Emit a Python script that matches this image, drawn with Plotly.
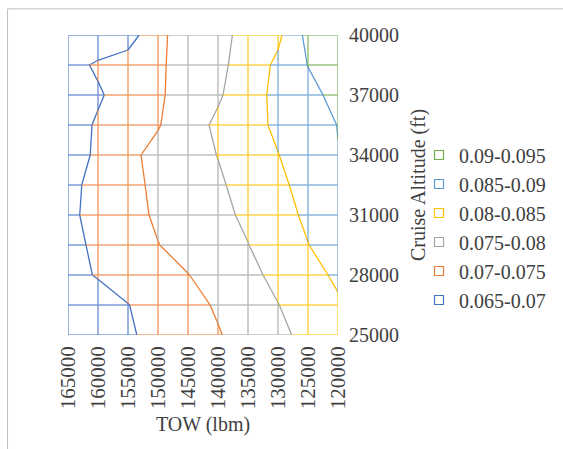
import plotly.graph_objects as go

# Take-off weight grid (lbm) and cruise altitude grid (ft)
tow = [165000, 160000, 155000, 150000, 145000, 140000, 135000, 130000, 125000, 120000]
altitude = [25000, 26500, 28000, 29500, 31000, 32500, 34000, 35500, 37000, 38500, 40000]
altitude_labels = [25000, 28000, 31000, 34000, 37000, 40000]

# Surface value at each (altitude, TOW) node; columns follow the order of `tow`
z_25000 = [0.0661, 0.0678, 0.0695, 0.0712, 0.0729, 0.0747, 0.0768, 0.0790, 0.0812, 0.0834]
z_26500 = [0.0664, 0.0682, 0.0699, 0.0718, 0.0736, 0.0755, 0.0777, 0.0799, 0.0822, 0.0844]
z_28000 = [0.0687, 0.0703, 0.0718, 0.0733, 0.0749, 0.0769, 0.0789, 0.0811, 0.0834, 0.0858]
z_29500 = [0.0688, 0.0708, 0.0729, 0.0749, 0.0766, 0.0783, 0.0799, 0.0825, 0.0849, 0.0875]
z_31000 = [0.0691, 0.0714, 0.0736, 0.0756, 0.0773, 0.0789, 0.0808, 0.0833, 0.0858, 0.0883]
z_32500 = [0.0689, 0.0713, 0.0738, 0.0759, 0.0777, 0.0794, 0.0816, 0.0841, 0.0865, 0.0890]
z_34000 = [0.0680, 0.0707, 0.0740, 0.0763, 0.0782, 0.0801, 0.0825, 0.0849, 0.0874, 0.0899]
z_35500 = [0.0680, 0.0705, 0.0726, 0.0747, 0.0779, 0.0809, 0.0834, 0.0858, 0.0879, 0.0901]
z_37000 = [0.0680, 0.0695, 0.0719, 0.0744, 0.0769, 0.0794, 0.0830, 0.0862, 0.0887, 0.0913]
z_38500 = [0.0685, 0.0706, 0.0725, 0.0744, 0.0766, 0.0789, 0.0821, 0.0860, 0.0901, 0.0915]
z_40000 = [0.0662, 0.0668, 0.0675, 0.0742, 0.0767, 0.0788, 0.0813, 0.0840, 0.0914, 0.0930]

# Band boundaries, band labels and band colours
levels = [0.07, 0.075, 0.08, 0.085, 0.09]
band_labels = ["0.065-0.07", "0.07-0.075", "0.075-0.08", "0.08-0.085", "0.085-0.09", "0.09-0.095"]
band_colors = ["#4472C4", "#ED7D31", "#A5A5A5", "#FFC000", "#5B9BD5", "#70AD47"]

z_rows = [z_25000, z_26500, z_28000, z_29500, z_31000, z_32500,
          z_34000, z_35500, z_37000, z_38500, z_40000]

FONT = "Liberation Serif, Times New Roman, serif"
TEXT = "#404040"

fig = go.Figure()


def band_of(v):
    return sum(1 for L in levels if v >= L)


# Wireframe: every grid edge is split where it crosses a band boundary
seg_x = [[] for _ in band_colors]
seg_y = [[] for _ in band_colors]


def add_edge(x0, y0, v0, x1, y1, v1):
    ts = [0.0]
    lo, hi = min(v0, v1), max(v0, v1)
    for L in levels:
        if lo < L < hi:
            ts.append((L - v0) / (v1 - v0))
    ts.append(1.0)
    ts.sort()
    for a, b in zip(ts[:-1], ts[1:]):
        vm = v0 + (v1 - v0) * (a + b) / 2
        k = band_of(vm)
        seg_x[k] += [x0 + (x1 - x0) * a, x0 + (x1 - x0) * b, None]
        seg_y[k] += [y0 + (y1 - y0) * a, y0 + (y1 - y0) * b, None]


for j, alt in enumerate(altitude):
    for i in range(len(tow) - 1):
        add_edge(tow[i], alt, z_rows[j][i], tow[i + 1], alt, z_rows[j][i + 1])
for i, w in enumerate(tow):
    for j in range(len(altitude) - 1):
        add_edge(w, altitude[j], z_rows[j][i], w, altitude[j + 1], z_rows[j + 1][i])

for k, col in enumerate(band_colors):
    fig.add_trace(go.Scatter(
        x=seg_x[k], y=seg_y[k], mode="lines",
        line=dict(color=col, width=1.4), opacity=0.75,
        hoverinfo="skip", showlegend=False))

# Contour lines at each band boundary, coloured like the band below it
tow_asc = tow[::-1]
z_asc = [row[::-1] for row in z_rows]
for k, L in enumerate(levels):
    fig.add_trace(go.Contour(
        x=tow_asc, y=altitude, z=z_asc,
        autocontour=False,
        contours=dict(start=L, end=L, size=0.005, coloring="lines"),
        colorscale=[[0, band_colors[k]], [1, band_colors[k]]],
        line=dict(width=1.3, smoothing=0),
        showscale=False, hoverinfo="skip", showlegend=False))

# Legend entries, highest band first
for k in reversed(range(len(band_labels))):
    fig.add_trace(go.Scatter(
        x=[None], y=[None], mode="markers", name=band_labels[k],
        legendgroup=band_labels[k],
        marker=dict(symbol="square-open", size=9, color=band_colors[k],
                    line=dict(width=1.2, color=band_colors[k]))))

fig.update_layout(
    width=563, height=449,
    margin=dict(l=68, r=223, t=35, b=114),
    paper_bgcolor="white", plot_bgcolor="white",
    font=dict(family=FONT, size=20, color=TEXT),
    showlegend=True,
    legend=dict(x=1.30, xanchor="left", y=0.665, yanchor="top",
                font=dict(family=FONT, size=20, color=TEXT),
                tracegroupgap=0, itemwidth=30, bgcolor="rgba(0,0,0,0)"),
    xaxis=dict(range=[165000, 120000], tickmode="array", tickvals=tow,
               ticktext=[str(v) for v in tow], tickangle=-90,
               tickfont=dict(size=21),
               showgrid=False, zeroline=False, showline=False,
               ticks="", ticklabelstandoff=6,
               title=dict(text="TOW (lbm)", standoff=8,
                          font=dict(family=FONT, size=20, color=TEXT))),
    yaxis=dict(range=[25000, 40000], side="right", tickmode="array",
               tickvals=altitude_labels,
               ticktext=[str(v) for v in altitude_labels],
               showgrid=False, zeroline=False,
               showline=False, ticks="", ticklabelstandoff=10,
               title=dict(text="Cruise Altitude (ft)", standoff=12,
                          font=dict(family=FONT, size=20, color=TEXT))),
    shapes=[dict(type="rect", xref="paper", yref="paper",
                 x0=-0.224, x1=1.85, y0=-0.42, y1=1.087,
                 line=dict(color="#BFBFBF", width=1), layer="below")],
)

fig.write_html("out.html")
